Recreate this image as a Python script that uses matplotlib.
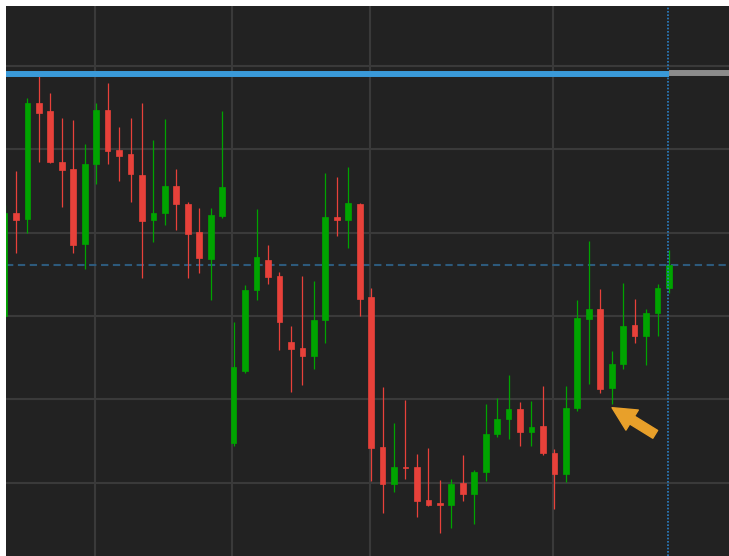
import matplotlib
matplotlib.use("Agg")
import matplotlib.pyplot as plt
import numpy as np

# OHLC data (arbitrary price units), one candle per period
opens = [100.00, 112.36, 111.64, 125.56, 124.60, 118.48, 117.64, 108.64, 118.24, 124.72,
         119.92, 119.44, 116.92, 111.52, 112.36, 115.60, 113.44, 110.08, 106.84, 112.00,
         84.76, 93.40, 103.12, 106.72, 104.80, 96.88, 96.16, 95.20, 99.52, 111.88,
         111.52, 113.44, 102.28, 84.28, 79.84, 81.88, 81.88, 77.92, 77.56, 77.32,
         79.96, 78.64, 81.28, 85.84, 87.64, 88.84, 86.08, 86.80, 83.56, 81.04,
         88.96, 99.64, 100.84, 91.36, 94.24, 98.92, 97.60, 100.36, 103.36]
highs = [113.32, 117.40, 126.16, 128.80, 126.76, 123.76, 123.52, 120.64, 125.56, 127.96,
         122.68, 123.76, 125.56, 121.12, 123.64, 117.64, 113.68, 112.96, 112.96, 124.60,
         99.28, 103.72, 112.84, 108.52, 105.28, 98.80, 104.80, 104.20, 117.16, 116.68,
         117.88, 113.56, 103.36, 91.48, 87.16, 89.92, 83.44, 84.16, 80.32, 80.44,
         83.32, 81.52, 89.44, 90.16, 92.92, 89.68, 89.80, 91.60, 84.04, 91.60,
         101.92, 109.00, 103.24, 95.80, 103.96, 102.04, 100.84, 103.84, 107.92]
lows = [99.52, 107.56, 109.96, 118.48, 118.36, 113.08, 107.56, 105.64, 115.84, 118.24,
        116.20, 113.68, 104.56, 108.88, 110.92, 110.32, 104.56, 105.16, 101.92, 111.76,
        84.40, 93.16, 101.92, 103.84, 95.92, 90.88, 91.72, 93.64, 96.76, 109.60,
        108.16, 100.00, 80.20, 76.36, 78.88, 80.44, 75.88, 77.20, 73.96, 74.56,
        77.80, 75.04, 80.20, 85.48, 85.24, 84.40, 84.40, 83.32, 76.84, 80.08,
        88.60, 91.84, 90.76, 89.44, 93.64, 96.76, 94.12, 97.60, 102.76]
closes = [112.36, 111.52, 125.56, 124.36, 118.48, 117.52, 108.52, 118.24, 124.72, 119.80,
          119.20, 117.04, 111.40, 112.36, 115.60, 113.44, 109.84, 106.96, 112.12, 115.48,
          93.88, 103.12, 107.08, 104.68, 99.28, 96.04, 95.20, 99.52, 111.88, 111.52,
          113.56, 102.04, 84.16, 79.84, 81.88, 81.76, 77.80, 77.32, 77.32, 79.84,
          78.64, 81.28, 85.84, 87.64, 88.84, 86.08, 86.68, 83.56, 81.04, 88.96,
          99.76, 100.84, 91.24, 94.24, 98.80, 97.60, 100.36, 103.36, 106.12]

session_starts = [8, 20, 32, 48]   # candle indices where vertical separators fall
level_price = 129.0                 # horizontal blue level
last_index = len(closes) - 1
arrow_tip = (53.03, 89.0)
arrow_tail = (56.8, 85.8)

BG = "#222222"
GRID = "#3a3a3a"
GREEN = "#00a400"
RED = "#e8413a"
BLUE = "#3a9ad9"
GRAY = "#8c8c8c"
ORANGE = "#e8a02a"

fig = plt.figure(figsize=(7.29, 5.56), dpi=100, facecolor="white")
ax = fig.add_axes([6 / 729, 0, 723 / 729, 550 / 556])
ax.set_facecolor(BG)

ax.set_xlim(0.13, 63.24)
ax.set_ylim(71.2, 137.2)

# grid
for g in np.arange(80, 131, 10):
    ax.axhline(g, color=GRID, lw=1.5, zorder=0)
for s in session_starts:
    ax.axvline(s - 0.1, color=GRID, lw=1.5, zorder=0)

x = np.arange(len(closes))
o = np.array(opens); c = np.array(closes); h = np.array(highs); l = np.array(lows)
up = c >= o
cols = np.where(up, GREEN, RED)

ax.vlines(x, l, h, colors=cols, lw=0.9, zorder=2)
bottoms = np.minimum(o, c)
heights = np.maximum(np.abs(c - o), 0.15)
ax.bar(x, heights, bottom=bottoms, width=0.5, color=cols, edgecolor=cols, lw=0.5, zorder=3)

# current price dashed line
ax.axhline(closes[-1], color="#2d5a7c", lw=1.5, ls=(0, (3.5, 2.2)), zorder=1)
# last bar dotted vertical
ax.axvline(last_index - 0.05, color="#2a80c8", lw=1.2, ls=(0, (1, 1)), zorder=4)

# level line
ax.plot([0.13, last_index], [level_price, level_price], color=BLUE, lw=4.3,
        solid_capstyle="butt", zorder=5)
ax.plot([last_index, 63.24], [level_price + 0.15, level_price + 0.15], color=GRAY, lw=4.3,
        solid_capstyle="butt", zorder=5)

# arrow
ax.annotate("", xy=arrow_tip, xytext=arrow_tail,
            arrowprops=dict(arrowstyle="simple,head_length=0.85,head_width=0.85,tail_width=0.33",
                            mutation_scale=20, color=ORANGE, shrinkA=0, shrinkB=0),
            zorder=6)

ax.set_xticks([]); ax.set_yticks([])
for sp in ax.spines.values():
    sp.set_visible(False)

fig.savefig("out.png", dpi=100, facecolor="white")
